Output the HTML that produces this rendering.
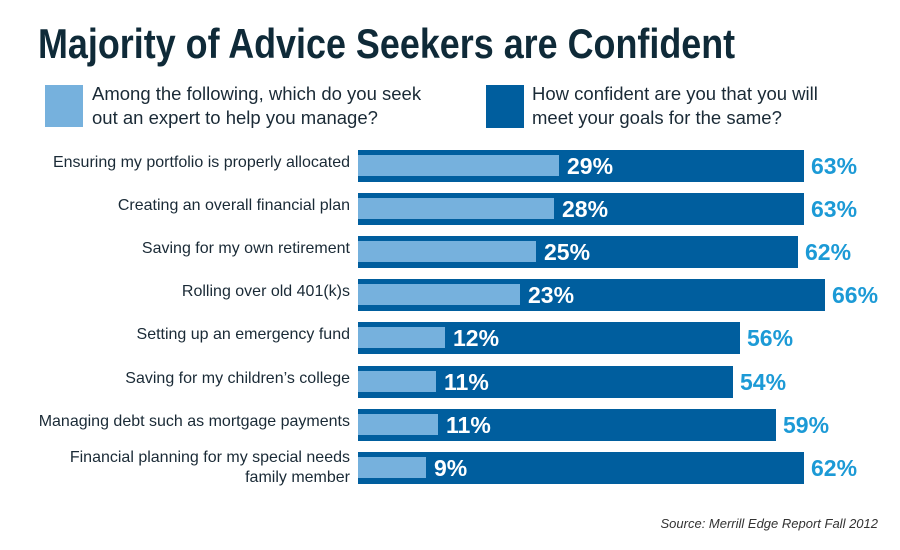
<!DOCTYPE html>
<html><head><style>
body{margin:0;width:900px;height:550px;background:#fff;font-family:"Liberation Sans",sans-serif;position:relative;overflow:hidden}
.a{position:absolute}
.t{left:38px;top:20px;font-size:42px;font-weight:bold;color:#0f2a38;transform:scaleX(0.855);transform-origin:0 0;white-space:nowrap}
.lg{font-size:18.5px;color:#1a2a36;line-height:24px}
.lab{position:absolute;right:550px;font-size:16px;color:#1a2a36;text-align:right;line-height:20px;white-space:nowrap}
.d{position:absolute;left:358px;height:32px;background:#005e9e}
.l{position:absolute;left:358px;height:21px;background:#76b1dd}
.v{position:absolute;font-weight:bold;font-size:23px;line-height:26px}
.w{color:#fff}.c{color:#1c9ad6}
</style></head><body>
<div class="a t">Majority of Advice Seekers are Confident</div>
<div class="a" style="left:45px;top:85px;width:38px;height:42px;background:#76b1dd"></div>
<div class="a lg" style="left:92px;top:82px">Among the following, which do you seek<br>out an expert to help you manage?</div>
<div class="a" style="left:486px;top:85px;width:38px;height:43px;background:#005e9e"></div>
<div class="a lg" style="left:532px;top:82px">How confident are you that you will<br>meet your goals for the same?</div>
<div id="rows"></div>
<div class="a" style="right:22px;top:516px;font-style:italic;font-size:13px;color:#333">Source: Merrill Edge Report Fall 2012</div>
<script>
var d=[["Ensuring my portfolio is properly allocated",29,63,559,804],["Creating an overall financial plan",28,63,554,804],["Saving for my own retirement",25,62,536,798],["Rolling over old 401(k)s",23,66,520,825],["Setting up an emergency fund",12,56,445,740],["Saving for my children’s college",11,54,436,733],["Managing debt such as mortgage payments",11,59,438,776],["Financial planning for my special needs<br>family member",9,62,426,804]];
var h="";
d.forEach(function(r,i){
var top=Math.round(150+43.1*i), cy=top+16;
var dw=r[4]-358, lw=r[3]-358;
h+='<div class="d" style="top:'+top+'px;width:'+dw+'px"></div>';
h+='<div class="l" style="top:'+(top+5)+'px;width:'+lw+'px"></div>';
h+='<div class="v w" style="top:'+(cy-13)+'px;left:'+(r[3]+8)+'px">'+r[1]+'%</div>';
h+='<div class="v c" style="top:'+(cy-13)+'px;left:'+(r[4]+7)+'px">'+r[2]+'%</div>';
var two=r[0].indexOf("<br>")>=0;
h+='<div class="lab" style="top:'+(two?cy-20:cy-13)+'px">'+r[0]+'</div>';
});
document.getElementById("rows").innerHTML=h;
</script>
</body></html>
